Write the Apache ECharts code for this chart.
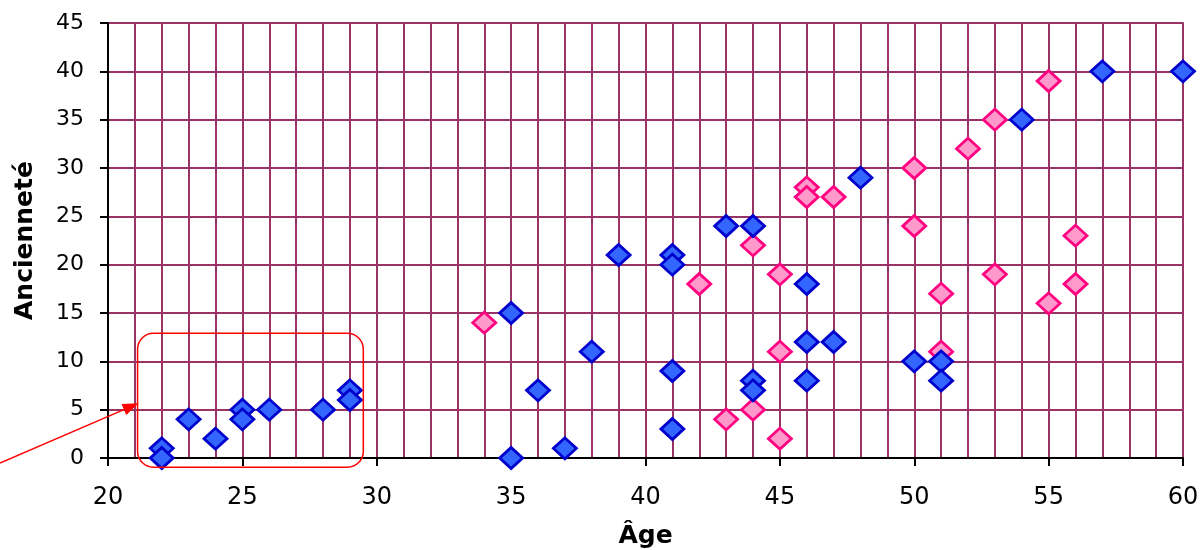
<!DOCTYPE html>
<html>
<head>
<meta charset="utf-8">
<script src="https://cdn.jsdelivr.net/npm/echarts@6/dist/echarts.min.js"></script>
<style>html,body{margin:0;padding:0;background:#fff}#c{width:1203px;height:550px}</style>
</head>
<body>
<div id="c"></div>
<script>
// Blue series: [age, seniority]
const blueAge = [22,22,23,24,25,25,26,28,29,29,35,35,36,37,38,39,41,41,41,41,43,44,44,44,46,46,46,47,48,50,51,51,54,57,60];
const blueSen = [1,0,4,2,5,4,5,5,7,6,15,0,7,1,11,21,21,20,9,3,24,24,8,7,18,12,8,12,29,10,10,8,35,40,40];
// Pink series
const pinkAge = [34,42,43,44,44,45,45,45,46,46,47,50,50,51,51,52,53,53,55,55,56,56];
const pinkSen = [14,18,4,22,5,19,11,2,28,27,27,30,24,17,11,32,35,19,39,16,23,18];
const xTitle = 'Âge';
const yTitle = 'Ancienneté';
// annotation box (data units) around the young group
const boxX = [21.1, 29.5];
const boxY = [-0.95, 12.9];

const chart = echarts.init(document.getElementById('c'));
const font = "'DejaVu Sans', Verdana, sans-serif";
chart.setOption({
  animation:false,
  backgroundColor:'#fff',
  grid:{left:108,right:20,top:23,bottom:92,show:true,borderColor:'#808080',borderWidth:2,
        backgroundColor:'transparent',containLabel:false,outerBoundsMode:'none'},
  xAxis:{type:'value',min:20,max:60,interval:5,
    name:xTitle,nameLocation:'middle',nameGap:66,
    nameTextStyle:{fontFamily:font,fontSize:25,fontWeight:'bold',color:'#000'},
    axisLine:{show:true,onZero:false,lineStyle:{color:'#000',width:2}},
    axisTick:{show:true,length:8,lineStyle:{color:'#000',width:2}},
    axisLabel:{fontFamily:font,fontSize:24,color:'#000',margin:28},
    splitLine:{show:true,lineStyle:{color:'#993366',width:2}},
    minorTick:{show:false,splitNumber:5},
    minorSplitLine:{show:true,lineStyle:{color:'#993366',width:2}}
  },
  yAxis:{type:'value',min:0,max:45,interval:5,
    name:yTitle,nameLocation:'middle',nameGap:70,nameRotate:90,
    nameTextStyle:{fontFamily:font,fontSize:25,fontWeight:'bold',color:'#000'},
    axisLine:{show:true,onZero:false,lineStyle:{color:'#000',width:2}},
    axisTick:{show:true,length:8,lineStyle:{color:'#000',width:2}},
    axisLabel:{fontFamily:font,fontSize:22,color:'#000',margin:24},
    splitLine:{show:true,lineStyle:{color:'#993366',width:2}}
  },
  series:[
    {type:'scatter',symbol:'diamond',symbolSize:[23,21],z:3,
     data:blueAge.map((a,i)=>[a,blueSen[i]]),
     itemStyle:{color:'#3366FF',borderColor:'#0000CC',borderWidth:2.8,opacity:1}},
    {type:'scatter',symbol:'diamond',symbolSize:[23,21],z:2,
     data:pinkAge.map((a,i)=>[a,pinkSen[i]]),
     itemStyle:{color:'#FF99CC',borderColor:'#FF0080',borderWidth:2.8,opacity:1}}
  ]
});
const p1 = chart.convertToPixel({gridIndex:0},[boxX[0],boxY[1]]);
const p2 = chart.convertToPixel({gridIndex:0},[boxX[1],boxY[0]]);
const tip = [p1[0]+1, (p1[1]+p2[1])/2 + 3];
const start = [0, 463];
const ang = Math.atan2(tip[1]-start[1], tip[0]-start[0]);
const L=16, W=6;
const bx = tip[0]-L*Math.cos(ang), by = tip[1]-L*Math.sin(ang);
const nx = -Math.sin(ang), ny = Math.cos(ang);
chart.setOption({graphic:[
  {type:'rect',z:100,shape:{x:p1[0],y:p1[1],width:p2[0]-p1[0],height:p2[1]-p1[1],r:16},
   style:{fill:'none',stroke:'#FF0000',lineWidth:1.5}},
  {type:'line',z:100,shape:{x1:start[0],y1:start[1],x2:bx,y2:by},style:{stroke:'#FF0000',lineWidth:1.5}},
  {type:'polygon',z:100,shape:{points:[tip,[bx+nx*W,by+ny*W],[bx-nx*W,by-ny*W]]},style:{fill:'#FF0000'}}
]});
</script>
</body>
</html>
